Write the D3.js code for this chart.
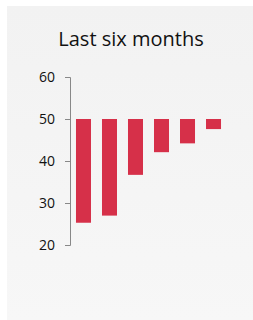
<!DOCTYPE html>
<html>
<head>
<meta charset="utf-8">
<script src="https://cdn.jsdelivr.net/npm/d3@7"></script>
<style>
  html, body { margin: 0; padding: 0; background: #fff; }
  svg { display: block; }
</style>
</head>
<body>
<svg id="chart"></svg>
<script>
// Chart data
const months = ["M1", "M2", "M3", "M4", "M5", "M6"];
const values = [25.3, 27.0, 36.7, 42.1, 44.2, 47.6];
const baseline = 50;
const yTicks = [20, 30, 40, 50, 60];

const width = 253, height = 320;
const svg = d3.select("#chart")
    .attr("width", width)
    .attr("height", height);

// card background with a soft vertical gradient
const grad = svg.append("defs").append("linearGradient")
    .attr("id", "bg")
    .attr("x1", 0).attr("y1", 0).attr("x2", 0).attr("y2", 1);
grad.append("stop").attr("offset", "0%").attr("stop-color", "#f2f2f2");
grad.append("stop").attr("offset", "100%").attr("stop-color", "#f7f7f7");

svg.append("rect")
    .attr("x", 7).attr("y", 6)
    .attr("width", 246).attr("height", 314)
    .attr("fill", "url(#bg)");

svg.append("text")
    .attr("x", 131)
    .attr("y", 46)
    .attr("text-anchor", "middle")
    .attr("font-family", "'Open Sans', sans-serif")
    .attr("font-size", 20)
    .attr("fill", "#111")
    .text("Last six months");

const x = d3.scaleBand()
    .domain(months)
    .range([70, 227])
    .paddingInner(0.423)
    .paddingOuter(0.23);

const y = d3.scaleLinear()
    .domain([20, 60])
    .range([245, 77]);

const yAxis = svg.append("g")
    .attr("transform", "translate(70,0)")
    .call(d3.axisLeft(y).tickValues(yTicks).tickSize(5).tickPadding(10));

yAxis.select(".domain").attr("stroke", "#888");
yAxis.selectAll(".tick line").attr("stroke", "#888");
yAxis.selectAll(".tick text")
    .attr("font-family", "'Open Sans', sans-serif")
    .attr("font-size", 14)
    .attr("fill", "#111");

svg.append("g")
    .selectAll("rect")
    .data(values)
    .enter().append("rect")
    .attr("x", (d, i) => x(months[i]))
    .attr("width", x.bandwidth())
    .attr("y", d => y(Math.max(d, baseline)))
    .attr("height", d => Math.abs(y(d) - y(baseline)))
    .attr("fill", "#d63049");
</script>
</body>
</html>
